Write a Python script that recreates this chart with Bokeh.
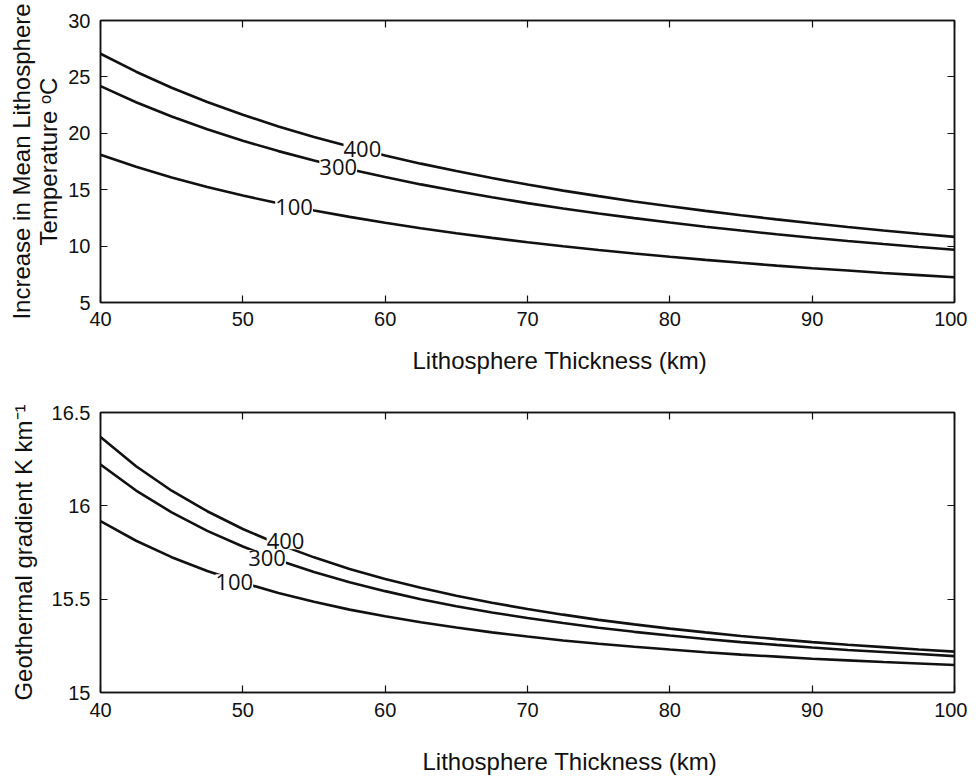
from bokeh.plotting import figure
from bokeh.models import LinearAxis, Label, FixedTicker, Range1d, Title
from bokeh.layouts import column
from bokeh.embed import file_html
from bokeh.resources import INLINE

# ---- data ----
thickness = [40, 42.5, 45, 47.5, 50, 52.5, 55, 57.5, 60, 62.5, 65, 67.5, 70,
             72.5, 75, 77.5, 80, 82.5, 85, 87.5, 90, 92.5, 95, 97.5, 100]

temp_400 = [27.05, 25.46, 24.04, 22.78, 21.64, 20.61, 19.67, 18.82, 18.03, 17.31, 16.65, 16.03, 15.46,
            14.92, 14.43, 13.96, 13.53, 13.12, 12.73, 12.37, 12.02, 11.70, 11.39, 11.10, 10.82]
temp_300 = [24.18, 22.75, 21.49, 20.36, 19.34, 18.42, 17.58, 16.82, 16.12, 15.47, 14.88, 14.33, 13.81,
            13.34, 12.89, 12.48, 12.09, 11.72, 11.38, 11.05, 10.74, 10.45, 10.18, 9.92, 9.67]
temp_100 = [18.10, 17.04, 16.09, 15.24, 14.48, 13.79, 13.16, 12.59, 12.07, 11.58, 11.14, 10.73, 10.34,
            9.99, 9.65, 9.34, 9.05, 8.78, 8.52, 8.27, 8.04, 7.83, 7.62, 7.43, 7.24]

grad_400 = [16.369, 16.212, 16.081, 15.971, 15.876, 15.795, 15.724, 15.662, 15.608, 15.561, 15.518, 15.481, 15.447,
            15.417, 15.389, 15.365, 15.342, 15.322, 15.303, 15.286, 15.270, 15.256, 15.243, 15.230, 15.219]
grad_300 = [16.221, 16.082, 15.965, 15.866, 15.782, 15.709, 15.646, 15.591, 15.543, 15.500, 15.462, 15.429, 15.399,
            15.372, 15.347, 15.325, 15.305, 15.287, 15.270, 15.255, 15.241, 15.228, 15.217, 15.206, 15.195]
grad_100 = [15.918, 15.813, 15.725, 15.651, 15.588, 15.533, 15.486, 15.444, 15.408, 15.376, 15.348, 15.322, 15.300,
            15.279, 15.261, 15.245, 15.230, 15.216, 15.203, 15.192, 15.181, 15.172, 15.163, 15.155, 15.147]

series_names = ["400", "300", "100"]
x_ticks = [40, 50, 60, 70, 80, 90, 100]
top_y_ticks = [5, 10, 15, 20, 25, 30]
bot_y_ticks = [15, 15.5, 16, 16.5]
x_title = "Lithosphere Thickness (km)"

# inline contour-label positions (x, y in data units)
top_label_pos = [(58.4, 18.6), (56.7, 17.0), (53.6, 13.5)]
bot_label_pos = [(53.0, 15.81), (51.7, 15.72), (49.4, 15.59)]

AX_FONT = "Liberation Sans"
INK = "#111111"


def style_axis(ax, show_labels=True, label_standoff=10, ticks=None):
    ax.axis_line_color = INK
    ax.axis_line_width = 1.5
    ax.major_tick_line_color = INK
    ax.major_tick_line_width = 1.2
    ax.major_tick_in = 7
    ax.major_tick_out = 0
    ax.minor_tick_line_color = None
    ax.major_label_text_font = AX_FONT
    ax.major_label_text_color = INK
    ax.major_label_text_font_size = "20px"
    if show_labels:
        ax.major_label_standoff = label_standoff
    else:
        ax.major_label_standoff = 0
        ax.major_label_overrides = {t: "" for t in ticks}
    ax.axis_label_text_font = AX_FONT
    ax.axis_label_text_font_size = "24px"
    ax.axis_label_text_font_style = "normal"
    ax.axis_label_text_color = INK
    ax.axis_label_text_line_height = 1.0


def make_panel(ys, yrange, yticks, ylabel, label_pos, frame_h, mb_top, mb_bottom,
               ylab_standoff, xtitle_offset, xtitle_standoff, xtick_standoff):
    p = figure(frame_width=854, frame_height=frame_h,
               x_range=Range1d(40, 100), y_range=Range1d(*yrange),
               output_backend="svg", toolbar_location=None,
               min_border_left=100, min_border_right=13,
               min_border_top=mb_top, min_border_bottom=mb_bottom)
    p.grid.visible = False
    p.outline_line_color = INK
    p.outline_line_width = 1.5
    p.background_fill_color = "white"
    p.border_fill_color = "white"

    for yv in ys:
        p.line(thickness, yv, line_color=INK, line_width=2.6)

    for name, (lx, ly) in zip(series_names, label_pos):
        p.add_layout(Label(x=lx, y=ly, text=name, text_font="Open Sans",
                           text_font_size="22px", text_color=INK,
                           text_align="center", text_baseline="middle",
                           background_fill_color="white", background_fill_alpha=1.0))

    xa = p.xaxis[0]
    xa.ticker = FixedTicker(ticks=x_ticks)
    style_axis(xa, True, xtick_standoff)

    # x-axis title, placed slightly right of centre as in the reference
    p.add_layout(Title(text=x_title, align="left", offset=xtitle_offset,
                       standoff=xtitle_standoff, text_font=AX_FONT,
                       text_font_size="24px", text_font_style="normal",
                       text_color=INK), "below")

    ya = p.yaxis[0]
    ya.ticker = FixedTicker(ticks=yticks)
    ya.axis_label = ylabel
    style_axis(ya, True, 10)
    ya.axis_label_standoff = ylab_standoff

    ra = LinearAxis(ticker=FixedTicker(ticks=yticks))
    style_axis(ra, False, ticks=yticks)
    p.add_layout(ra, "right")
    ta = LinearAxis(ticker=FixedTicker(ticks=x_ticks))
    style_axis(ta, False, ticks=x_ticks)
    p.add_layout(ta, "above")
    return p


top = make_panel([temp_400, temp_300, temp_100], (5, 30), top_y_ticks,
                 "Increase in Mean Lithosphere\nTemperature \u1d52C",
                 top_label_pos, 282, 20, 90, 3, 312, 33, 9)
bottom = make_panel([grad_400, grad_300, grad_100], (15, 16.5), bot_y_ticks,
                    "Geothermal gradient K km\u207b\u00b9",
                    bot_label_pos, 280, 20, 60, 12, 322, 52, 10)

layout = column(top, bottom, spacing=0)
open("out.html", "w").write(file_html(layout, INLINE))
